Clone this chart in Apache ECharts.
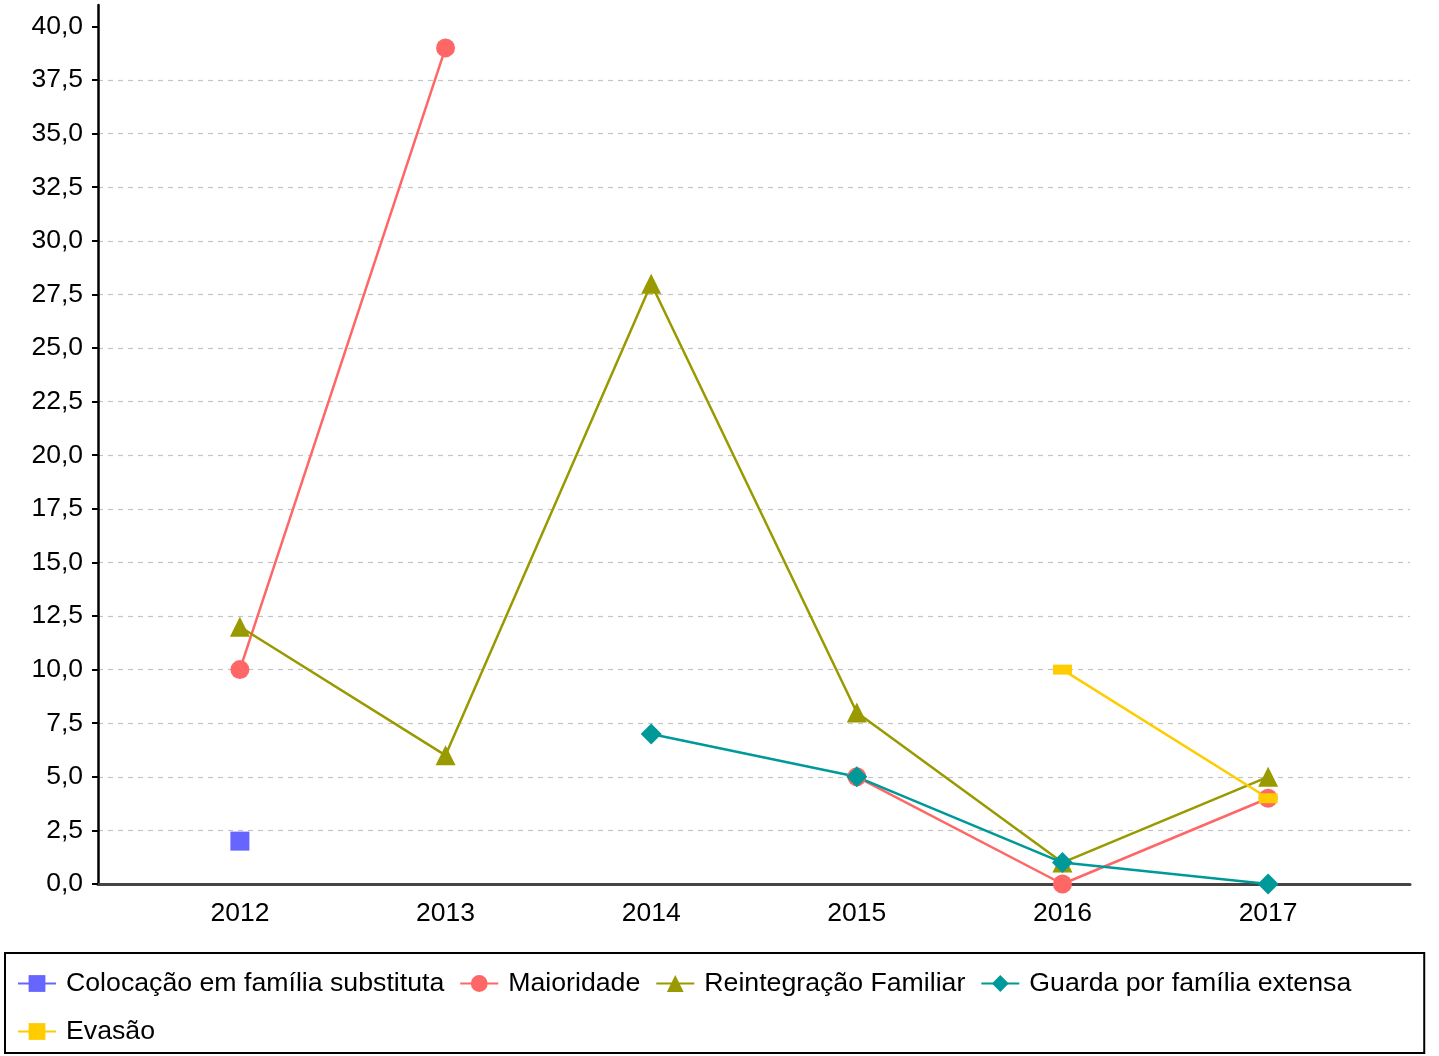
<!DOCTYPE html>
<html>
<head>
<meta charset="utf-8">
<script src="https://cdn.jsdelivr.net/npm/echarts@6/dist/echarts.min.js"></script>
<style>
html,body{margin:0;padding:0;background:#fff;}
#chart{width:1439px;height:1056px;}
</style>
</head>
<body>
<div id="chart"></div>
<script>
const years = [2012, 2013, 2014, 2015, 2016, 2017];
const yTicks = [0, 2.5, 5, 7.5, 10, 12.5, 15, 17.5, 20, 22.5, 25, 27.5, 30, 32.5, 35, 37.5, 40];
const seriesNames = ['Colocação em família substituta', 'Maioridade', 'Reintegração Familiar', 'Guarda por família extensa', 'Evasão'];
const colocacao = [2, null, null, null, null, null];
const maioridade = [10, 39, null, 5, 0, 4];
const reintegracao = [12, 6, 28, 8, 1, 5];
const guarda = [null, null, 7, 5, 1, 0];
const evasao = [null, null, null, null, 10, 4];

const FONT = "'Liberation Sans', Arial, sans-serif";
const pairs = arr => years.map((y, i) => [y, arr[i] == null ? '-' : arr[i]]);

const styles = [
  {color: '#6666ff', symbol: 'rect', size: 19},
  {color: '#ff6666', symbol: 'circle', size: 19},
  {color: '#999900', symbol: 'triangle', size: 20},
  {color: '#009999', symbol: 'diamond', size: 21},
  {color: '#ffcc00', symbol: 'rect', size: [19, 10]}
];
const values = [colocacao, maioridade, reintegracao, guarda, evasao];

const chart = echarts.init(document.getElementById('chart'), null, {renderer: 'canvas'});
chart.setOption({
  animation: false,
  backgroundColor: '#ffffff',
  grid: {left: 98, right: 29, top: 5, bottom: 172, containLabel: false},
  xAxis: {
    type: 'value',
    min: 2011.31,
    max: 2017.69,
    axisLine: {show: true, lineStyle: {color: '#444444', width: 3}},
    axisTick: {show: false},
    splitLine: {show: false},
    axisLabel: {
      customValues: years,
      margin: 16,
      color: '#000',
      fontSize: 26.5,
      fontFamily: FONT,
      formatter: v => (Math.abs(v - Math.round(v)) < 1e-6 ? String(Math.round(v)) : '')
    }
  },
  yAxis: {
    type: 'value',
    min: 0,
    max: 41,
    interval: 2.5,
    axisLine: {show: true, lineStyle: {color: '#000', width: 2.5}},
    axisTick: {show: true, length: 6, customValues: yTicks, lineStyle: {color: '#000', width: 2}},
    axisLabel: {
      customValues: yTicks,
      margin: 15,
      color: '#000',
      fontSize: 26.5,
      fontFamily: FONT,
      formatter: v => (v > 40.01 ? '' : v.toFixed(1).replace('.', ','))
    },
    splitLine: {show: true, showMaxLine: false, lineStyle: {color: '#c4c4c4', width: 1.2, type: [5, 5]}}
  },
  legend: {
    show: true,
    orient: 'horizontal',
    left: 5,
    top: 953,
    width: 1370,
    padding: [14, 73, 5, 12],
    itemWidth: 38,
    itemHeight: 21,
    itemGap: 15,
    borderColor: '#000',
    borderWidth: 2,
    borderRadius: 0,
    textStyle: {color: '#000', fontSize: 26.7, fontFamily: FONT, lineHeight: 33, padding: [0, 0, 0, 5]},
    data: seriesNames
  },
  series: values.map((arr, k) => ({
    name: seriesNames[k],
    type: 'line',
    data: pairs(arr),
    connectNulls: false,
    showSymbol: true,
    showAllSymbol: true,
    symbol: styles[k].symbol,
    symbolSize: styles[k].size,
    itemStyle: {color: styles[k].color},
    lineStyle: {color: styles[k].color, width: 2.5},
    emphasis: {disabled: true}
  }))
});
</script>
</body>
</html>
